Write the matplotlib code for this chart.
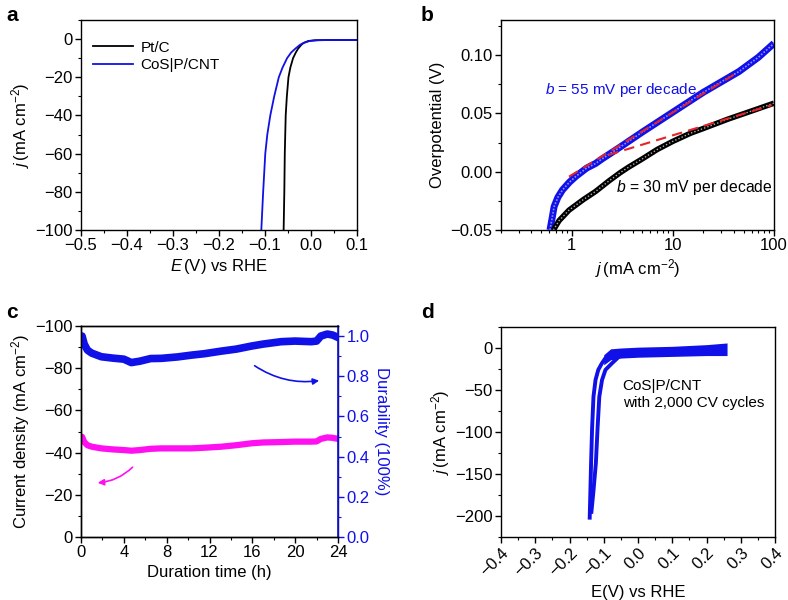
import numpy as np
import matplotlib
matplotlib.use('Agg')
import matplotlib.pyplot as plt
from matplotlib.ticker import MultipleLocator, FuncFormatter, LogLocator, NullFormatter

plt.rcParams['font.family'] = ['Liberation Sans', 'DejaVu Sans']
plt.rcParams['mathtext.fontset'] = 'custom'
plt.rcParams['mathtext.rm'] = 'Liberation Sans'
plt.rcParams['mathtext.it'] = 'Liberation Sans:italic'
plt.rcParams['font.size'] = 12
plt.rcParams['axes.linewidth'] = 1.0

BLUE = '#1010e8'
MAGENTA = '#ff10f0'
RED = '#e3242b'
FS = 12

# ---- panel a: polarisation curves
a_pt_E = [-0.0597, -0.0595, -0.058, -0.057, -0.055, -0.0525, -0.049, -0.045, -0.039, -0.033,
          -0.028, -0.021, -0.016, -0.006, 0.008, 0.03, 0.06, 0.1]
a_pt_j = [-110, -100, -80, -60, -40, -30, -20, -15, -10, -7, -5, -3, -2, -1, -0.6, -0.5, -0.5, -0.5]
a_cos_E = [-0.109, -0.108, -0.104, -0.0994, -0.095, -0.0885, -0.080, -0.070, -0.062, -0.052,
           -0.043, -0.034, -0.024, -0.016, -0.003, 0.015, 0.04, 0.07, 0.1]
a_cos_j = [-110, -100, -80, -60, -50, -40, -30, -20, -15, -10, -7, -5, -3, -2, -1, -0.6, -0.5,
           -0.5, -0.5]

# ---- panel b: Tafel plots
b_cos_j = [0.61, 0.64, 0.67, 0.73, 0.81, 0.95, 1.1, 1.4, 1.72, 2.0, 3.0, 5.0, 10, 20, 45, 70, 100]
b_cos_eta = [-0.05, -0.04, -0.030, -0.022, -0.0157, -0.009, -0.004, 0.003, 0.007, 0.011, 0.021,
             0.034, 0.051, 0.068, 0.0858, 0.098, 0.110]
b_pt_j = [0.66, 0.75, 0.94, 1.3, 1.72, 2.33, 3.0, 3.67, 5.0, 7.0, 10, 15, 20, 35, 60, 100]
b_pt_eta = [-0.05, -0.042, -0.033, -0.024, -0.017, -0.008, -0.001, 0.004, 0.011, 0.019, 0.026,
            0.033, 0.037, 0.045, 0.052, 0.0587]
fit_cos_j = [0.94, 45]
fit_cos_eta = [-0.0043, 0.0858]
fit_pt_j = [2.3, 95]
fit_pt_eta = [0.0143, 0.057]

# ---- panel c: stability
c_t = [0, 0.1, 0.3, 0.6, 1.0, 1.9, 3.0, 4.0, 4.7, 5.5, 6.5, 7.5, 9.0, 10.3, 11.5, 13.1,
       14.5, 15.9, 17.0, 18.7, 20.0, 21.5, 22.0, 22.4, 23.0, 23.5, 24.0]
c_dur = [0.98, 1.0, 0.96, 0.93, 0.915, 0.897, 0.89, 0.885, 0.868, 0.875, 0.888, 0.889, 0.896,
         0.905, 0.912, 0.925, 0.935, 0.95, 0.96, 0.972, 0.975, 0.972, 0.975, 1.0, 1.01, 1.005, 0.993]
c_cur = [-47, -47.5, -45, -43.5, -42.8, -42, -41.5, -41.2, -40.9, -41.2, -41.8, -42, -42, -42,
         -42.3, -42.8, -43.5, -44.4, -44.8, -45, -45.2, -45.2, -45.3, -46.5, -47.2, -47, -46.5]

# ---- panel d: CV cycling
d_E1 = [-0.141, -0.139, -0.137, -0.134, -0.130, -0.124, -0.116, -0.106, -0.095, -0.08]
d_j1 = [-202, -170, -137, -95, -58, -38, -26, -18.6, -12, -8]
d_E2 = [-0.136, -0.130, -0.123, -0.118, -0.113, -0.105, -0.095, -0.077, -0.06]
d_j2 = [-195, -170, -137, -95, -58, -38, -26, -18.6, -12]
d_band_E = [-0.10, -0.08, -0.05, 0.0, 0.1, 0.2, 0.26]
d_band_hi = [-8, -1, 0, 1, 2, 4, 6]
d_band_lo = [-20, -14, -12, -11, -10, -9, -9]

fig = plt.figure(figsize=(7.88, 6.0), dpi=100)


def style(ax):
    ax.tick_params(direction='out', length=4, width=1, top=False, right=False, labelsize=FS,
                   pad=2)
    ax.tick_params(which='minor', direction='out', length=2.5, width=0.8, top=False, right=False)


minus = FuncFormatter(lambda v, p: ('%.2f' % v).replace('-', '\u2212'))

# a
ax = fig.add_axes([81/788, 1-230/600, 276/788, 210/600])
ax.plot(a_pt_E, a_pt_j, color='k', lw=1.3, label='Pt/C')
ax.plot(a_cos_E, a_cos_j, color=BLUE, lw=1.3, label='CoS|P/CNT')
ax.set_xlim(-0.5, 0.1)
ax.set_ylim(-100, 10)
ax.xaxis.set_major_locator(MultipleLocator(0.1))
ax.xaxis.set_minor_locator(MultipleLocator(0.05))
ax.yaxis.set_major_locator(MultipleLocator(20))
ax.yaxis.set_minor_locator(MultipleLocator(10))
style(ax)
ax.set_xlabel(r'$E\,$(V) vs RHE', fontsize=FS, labelpad=3)
ax.set_ylabel(r'$j\,$(mA cm$^{-2}$)', fontsize=FS, labelpad=2)
ax.legend(loc='upper left', frameon=False, fontsize=11, handlelength=2.6,
          borderaxespad=0.4, labelspacing=0.25, handletextpad=0.5,
          bbox_to_anchor=(0.0, 0.96))

# b
ax = fig.add_axes([501/788, 1-230/600, 273/788, 210/600])
ax.plot(b_cos_j, b_cos_eta, color=BLUE, lw=5, solid_capstyle='butt')
ax.plot(b_cos_j, b_cos_eta, color='#9090ff', lw=1.2, ls=(0, (1, 1)))
ax.plot(b_pt_j, b_pt_eta, color='k', lw=4, solid_capstyle='butt')
ax.plot(b_pt_j, b_pt_eta, color='#b0b0b0', lw=1.0, ls=(0, (1, 1.5)))
ax.plot(fit_cos_j, fit_cos_eta, color=RED, lw=1.5, ls=(0, (5, 3)))
ax.plot(fit_pt_j, fit_pt_eta, color=RED, lw=1.5, ls=(0, (5, 3)))
ax.set_xscale('log')
ax.set_xlim(0.2, 100)
ax.set_ylim(-0.05, 0.13)
ax.xaxis.set_major_locator(LogLocator(base=10, numticks=10))
ax.xaxis.set_minor_locator(LogLocator(base=10, subs=np.arange(2, 10), numticks=20))
ax.xaxis.set_minor_formatter(NullFormatter())
ax.xaxis.set_major_formatter(FuncFormatter(lambda v, p: '%g' % v))
ax.yaxis.set_major_locator(MultipleLocator(0.05))
ax.yaxis.set_minor_locator(MultipleLocator(0.025))
ax.yaxis.set_major_formatter(minus)
style(ax)
ax.set_xlabel(r'$j\,$(mA cm$^{-2}$)', fontsize=FS, labelpad=3)
ax.set_ylabel('Overpotential (V)', fontsize=FS, labelpad=4)
ax.text(0.55, 0.070, r'$b$ = 55 mV per decade', color=BLUE, fontsize=11, va='center')
ax.text(98, -0.0135, r'$b$ = 30 mV per decade', color='k', fontsize=11.3, va='center', ha='right')

# c
ax = fig.add_axes([81/788, 1-537/600, 257/788, 211/600])
ax2 = ax.twinx()
ax.plot(c_t, c_cur, color=MAGENTA, lw=4.5)
ax2.plot(c_t, c_dur, color=BLUE, lw=5.5)
ax.set_xlim(0, 24)
ax.set_ylim(0, -100)
ax2.set_ylim(0, 1.05)
ax.xaxis.set_major_locator(MultipleLocator(4))
ax.xaxis.set_minor_locator(MultipleLocator(2))
ax.yaxis.set_major_locator(MultipleLocator(20))
ax.yaxis.set_minor_locator(MultipleLocator(10))
ax2.yaxis.set_major_locator(MultipleLocator(0.2))
ax2.yaxis.set_minor_locator(MultipleLocator(0.1))
style(ax)
ax2.tick_params(direction='out', length=4, width=1, colors=BLUE, labelsize=FS, pad=2)
ax2.tick_params(which='minor', direction='out', length=2.5, width=0.8, colors=BLUE)
ax2.spines['right'].set_color(BLUE)
ax2.spines['right'].set_linewidth(1.2)
ax.set_xlabel('Duration time (h)', fontsize=FS, labelpad=3)
ax.set_ylabel(r'Current density (mA cm$^{-2}$)', fontsize=FS, labelpad=2)
ax2.set_ylabel('Durability (100%)', fontsize=FS, color=BLUE, rotation=270, labelpad=14)
ax2.annotate('', xy=(22.5, 0.78), xytext=(16, 0.86),
             arrowprops=dict(arrowstyle='-|>', color=BLUE, lw=1.2, mutation_scale=9,
                             connectionstyle='arc3,rad=0.2'))
ax.annotate('', xy=(1.3, -25.6), xytext=(5, -34),
            arrowprops=dict(arrowstyle='-|>', color=MAGENTA, lw=1.2, mutation_scale=9,
                            connectionstyle='arc3,rad=-0.2'))

# d
ax = fig.add_axes([501/788, 1-537/600, 274/788, 210/600])
ax.fill_between(d_band_E, d_band_lo, d_band_hi, color=BLUE, lw=0)
ax.plot(d_E1, d_j1, color=BLUE, lw=2.8)
ax.plot(d_E2, d_j2, color=BLUE, lw=2.8)
ax.set_xlim(-0.4, 0.4)
ax.set_ylim(-225, 25)
ax.xaxis.set_major_locator(MultipleLocator(0.1))
ax.xaxis.set_minor_locator(MultipleLocator(0.05))
ax.yaxis.set_major_locator(MultipleLocator(50))
ax.yaxis.set_minor_locator(MultipleLocator(25))
style(ax)
for lab in ax.get_xticklabels():
    lab.set_rotation(45)
    lab.set_ha('right')
    lab.set_rotation_mode('anchor')
ax.set_xlabel('E(V) vs RHE', fontsize=FS, labelpad=4)
ax.set_ylabel(r'$j\,$(mA cm$^{-2}$)', fontsize=FS, labelpad=2)
ax.text(-0.045, -55, 'CoS|P/CNT\nwith 2,000 CV cycles', fontsize=11, va='center',
        linespacing=1.25)

for lbl, x, y in [('a', 0.008, 0.99), ('b', 0.534, 0.99), ('c', 0.008, 0.495), ('d', 0.534, 0.495)]:
    fig.text(x, y, lbl, fontsize=15, fontweight='bold', va='top')

fig.savefig('out.png', dpi=100)
